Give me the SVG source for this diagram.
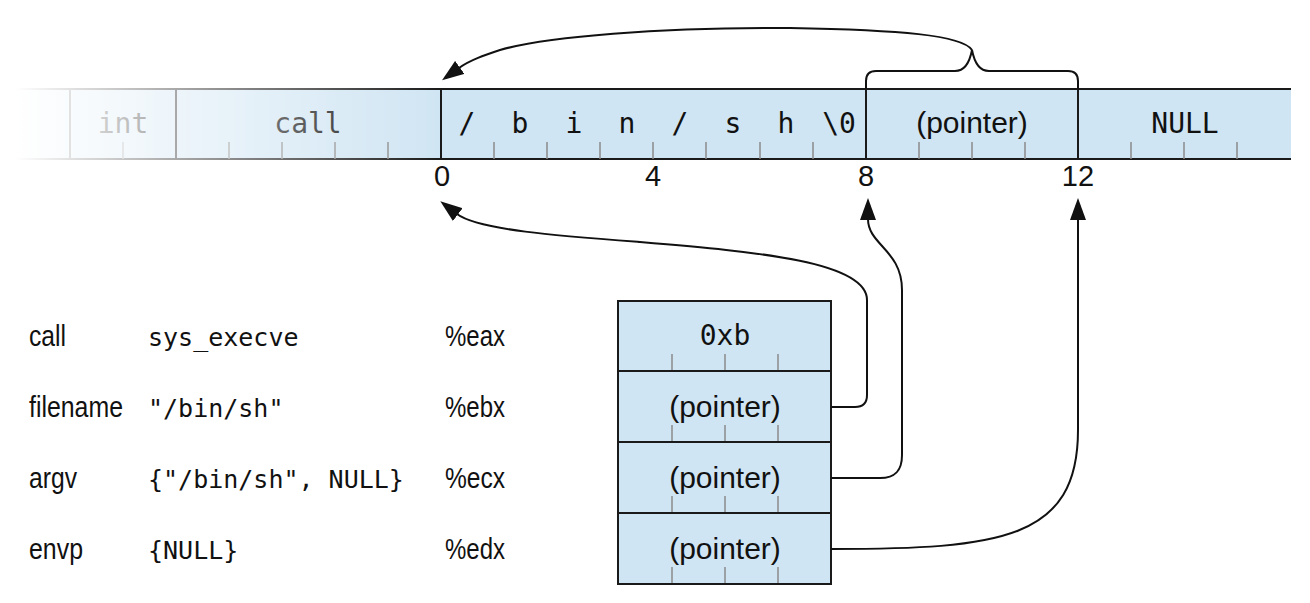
<svg xmlns="http://www.w3.org/2000/svg" width="1310" height="603" viewBox="0 0 1310 603">
<defs>
<style>
.cell{fill:#d0e5f3}
.ln{stroke:#1a1a1a;stroke-width:2;fill:none}
.tk{stroke:#8a8a8a;stroke-width:1.5}
.mono{font-family:"DejaVu Sans Mono",monospace;fill:#111}
.sans{font-family:"Liberation Sans",Arial,sans-serif;fill:#111}
.conn{stroke:#111;stroke-width:2;fill:none}
</style>
<marker id="ah" viewBox="0 0 22 16" markerWidth="22" markerHeight="16" refX="1" refY="8" orient="auto" markerUnits="userSpaceOnUse">
<path d="M0,0 L22,8 L0,16 z" fill="#111"/>
</marker>
<linearGradient id="fade" gradientUnits="userSpaceOnUse" x1="15" y1="0" x2="441" y2="0">
<stop offset="0" stop-color="#fff" stop-opacity="1"/>
<stop offset="1" stop-color="#fff" stop-opacity="0"/>
</linearGradient>
</defs>

<g id="memory">
<rect class="cell" x="0" y="89" width="1291" height="70"/>
<line class="ln" x1="0" y1="89" x2="1291" y2="89"/>
<line class="ln" x1="0" y1="159" x2="1291" y2="159"/>
<g class="tk">
<line x1="123" y1="142" x2="123" y2="159"/>
<line x1="229" y1="142" x2="229" y2="159"/>
<line x1="282" y1="142" x2="282" y2="159"/>
<line x1="335" y1="142" x2="335" y2="159"/>
<line x1="388" y1="142" x2="388" y2="159"/>
<line x1="494" y1="142" x2="494" y2="159"/>
<line x1="547" y1="142" x2="547" y2="159"/>
<line x1="600" y1="142" x2="600" y2="159"/>
<line x1="653" y1="142" x2="653" y2="159"/>
<line x1="706" y1="142" x2="706" y2="159"/>
<line x1="760" y1="142" x2="760" y2="159"/>
<line x1="813" y1="142" x2="813" y2="159"/>
<line x1="919" y1="142" x2="919" y2="159"/>
<line x1="972" y1="142" x2="972" y2="159"/>
<line x1="1025" y1="142" x2="1025" y2="159"/>
<line x1="1131" y1="142" x2="1131" y2="159"/>
<line x1="1184" y1="142" x2="1184" y2="159"/>
<line x1="1237" y1="142" x2="1237" y2="159"/>
</g>
<line class="ln" x1="70" y1="89" x2="70" y2="159"/>
<line class="ln" x1="176" y1="89" x2="176" y2="159"/>
<line class="ln" x1="441" y1="89" x2="441" y2="159"/>
<line class="ln" x1="866" y1="89" x2="866" y2="159"/>
<line class="ln" x1="1078" y1="89" x2="1078" y2="159"/>
<g class="mono" font-size="28" text-anchor="middle">
<text x="123" y="133">int</text>
<text x="308" y="133">call</text>
<text x="467" y="133">/</text>
<text x="520" y="133">b</text>
<text x="574" y="133">i</text>
<text x="627" y="133">n</text>
<text x="680" y="133">/</text>
<text x="733" y="133">s</text>
<text x="786" y="133">h</text>
<text x="839" y="133">\0</text>
<text x="1185" y="133">NULL</text>
</g>
<text class="sans" x="972" y="133" font-size="30" text-anchor="middle">(pointer)</text>
<rect x="0" y="85" width="442" height="78" fill="url(#fade)"/>
<g class="sans" font-size="29" text-anchor="middle">
<text x="442" y="186">0</text>
<text x="653" y="186">4</text>
<text x="866" y="186">8</text>
<text x="1078" y="186">12</text>
</g>
</g>

<g id="labels">
<g class="sans" font-size="30" lengthAdjust="spacingAndGlyphs">
<text x="29" y="346" textLength="37" lengthAdjust="spacingAndGlyphs">call</text>
<text x="29" y="417" textLength="94" lengthAdjust="spacingAndGlyphs">filename</text>
<text x="29" y="488" textLength="48" lengthAdjust="spacingAndGlyphs">argv</text>
<text x="29" y="559" textLength="54" lengthAdjust="spacingAndGlyphs">envp</text>
<text x="445" y="346" textLength="60" lengthAdjust="spacingAndGlyphs">%eax</text>
<text x="445" y="417" textLength="60" lengthAdjust="spacingAndGlyphs">%ebx</text>
<text x="445" y="488" textLength="60" lengthAdjust="spacingAndGlyphs">%ecx</text>
<text x="445" y="559" textLength="60" lengthAdjust="spacingAndGlyphs">%edx</text>
</g>
<g class="mono" font-size="25">
<text x="148" y="346">sys_execve</text>
<text x="148" y="417">"/bin/sh"</text>
<text x="148" y="488">{"/bin/sh", NULL}</text>
<text x="148" y="559">{NULL}</text>
</g>
</g>

<g id="registers">
<rect class="cell" x="618" y="301" width="213" height="283"/>
<g class="tk">
<line x1="672" y1="354" x2="672" y2="371"/><line x1="725" y1="354" x2="725" y2="371"/><line x1="778" y1="354" x2="778" y2="371"/>
<line x1="672" y1="425" x2="672" y2="442"/><line x1="725" y1="425" x2="725" y2="442"/><line x1="778" y1="425" x2="778" y2="442"/>
<line x1="672" y1="496" x2="672" y2="513"/><line x1="725" y1="496" x2="725" y2="513"/><line x1="778" y1="496" x2="778" y2="513"/>
<line x1="672" y1="567" x2="672" y2="584"/><line x1="725" y1="567" x2="725" y2="584"/><line x1="778" y1="567" x2="778" y2="584"/>
</g>
<rect class="ln" x="618" y="301" width="213" height="283"/>
<line class="ln" x1="618" y1="371" x2="831" y2="371"/>
<line class="ln" x1="618" y1="442" x2="831" y2="442"/>
<line class="ln" x1="618" y1="513" x2="831" y2="513"/>
<text class="mono" x="725" y="345" font-size="28" text-anchor="middle">0xb</text>
<g class="sans" font-size="30" text-anchor="middle">
<text x="725" y="417">(pointer)</text>
<text x="725" y="488">(pointer)</text>
<text x="725" y="559">(pointer)</text>
</g>
</g>

<g id="connectors">
<path class="conn" d="M866,89 L866,81 Q866,71 876,71 L955,71 Q968,71 972,50 Q976,71 989,71 L1068,71 Q1078,71 1078,81 L1078,89"/>
<path class="conn" marker-end="url(#ah)" d="M972,50 C962,35 900,30 790,28 C660,27 545,37 500,50 C485,55 470,60 459,68"/>
<path class="conn" marker-end="url(#ah)" d="M831,407 L855,407 Q867,407 867,395 L867,300 C867,262 760,252 640,242 C560,236 478,230 457,214"/>
<path class="conn" marker-end="url(#ah)" d="M831,478 L880,478 C896,478 902,470 902,455 L902,290 C902,250 868,245 868,219"/>
<path class="conn" marker-end="url(#ah)" d="M831,549 C1000,549 1078,540 1078,430 L1078,219"/>
</g>
</svg>
